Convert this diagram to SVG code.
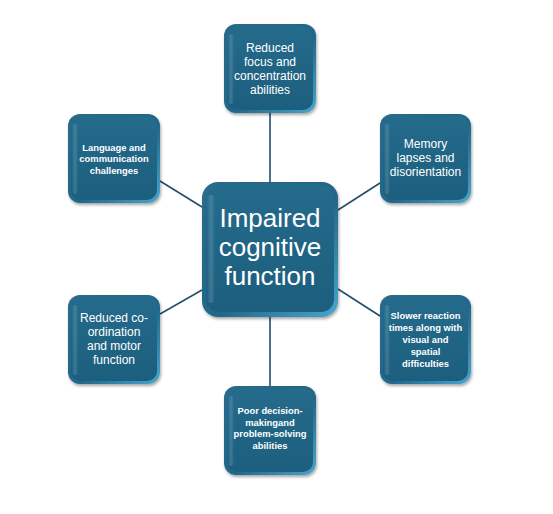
<svg xmlns="http://www.w3.org/2000/svg" width="553" height="514" viewBox="0 0 553 514">
<defs>
<linearGradient id="edge" x1="0" y1="0" x2="1" y2="1">
<stop offset="0" stop-color="#2a6a8a"/>
<stop offset="0.55" stop-color="#22668a"/>
<stop offset="1" stop-color="#4aa6cc"/>
</linearGradient>
<linearGradient id="face" x1="0" y1="0" x2="0" y2="1">
<stop offset="0" stop-color="#256b8c"/>
<stop offset="1" stop-color="#1c5e7d"/>
</linearGradient>
<linearGradient id="hl" x1="0" y1="0" x2="1" y2="0">
<stop offset="0" stop-color="#ffffff" stop-opacity="0"/>
<stop offset="0.5" stop-color="#9fd0e8" stop-opacity="0.22"/>
<stop offset="1" stop-color="#ffffff" stop-opacity="0"/>
</linearGradient>
<filter id="sh" x="-10%" y="-10%" width="125%" height="125%">
<feDropShadow dx="1" dy="2" stdDeviation="1.5" flood-color="#000" flood-opacity="0.35"/>
</filter>
</defs>
<style>
.o{fill:url(#edge);filter:url(#sh)}
.f{fill:url(#face)}
.h{fill:url(#hl)}
.c{stroke:#1f4f6c;stroke-width:1.6;fill:none}
text{font-family:"Liberation Sans",Arial,sans-serif;fill:#ffffff;text-anchor:middle}
.m{font-size:12px}
.s{font-size:9.4px;font-weight:bold}
.b{font-size:26px}
</style>
<rect width="553" height="514" fill="#ffffff"/>
<g id="connectors">
<line class="c" x1="270" y1="113" x2="270" y2="182"/>
<line class="c" x1="270" y1="317" x2="270" y2="386"/>
<line class="c" x1="160" y1="181" x2="202" y2="207"/>
<line class="c" x1="338" y1="210" x2="380" y2="183"/>
<line class="c" x1="160" y1="314" x2="202" y2="290"/>
<line class="c" x1="338" y1="289" x2="380" y2="316"/>
</g>
<g id="center">
<rect class="o" x="202" y="182" width="136" height="135" rx="16"/>
<rect class="f" x="206" y="185" width="128" height="127" rx="13"/>
<rect class="h" x="207" y="195" width="8" height="108" rx="4"/>
<text class="b" x="270" y="227">Impaired</text>
<text class="b" x="270" y="256">cognitive</text>
<text class="b" x="270" y="285">function</text>
</g>
<g id="n-top">
<rect class="o" x="224" y="24" width="92" height="89" rx="12"/>
<rect class="f" x="227" y="26" width="86" height="84" rx="10"/>
<rect class="h" x="228" y="34" width="6" height="70" rx="3"/>
<text class="m" x="270" y="52">Reduced</text>
<text class="m" x="270" y="66">focus and</text>
<text class="m" x="270" y="80">concentration</text>
<text class="m" x="270" y="94">abilities</text>
</g>
<g id="n-lefttop">
<rect class="o" x="68" y="114" width="92" height="89" rx="12"/>
<rect class="f" x="71" y="116" width="86" height="84" rx="10"/>
<rect class="h" x="72" y="124" width="6" height="70" rx="3"/>
<text class="s" x="114" y="151">Language and</text>
<text class="s" x="114" y="162">communication</text>
<text class="s" x="114" y="174">challenges</text>
</g>
<g id="n-righttop">
<rect class="o" x="380" y="114" width="91" height="89" rx="12"/>
<rect class="f" x="383" y="116" width="85" height="84" rx="10"/>
<rect class="h" x="384" y="124" width="6" height="70" rx="3"/>
<text class="m" x="425.5" y="148">Memory</text>
<text class="m" x="425.5" y="162">lapses and</text>
<text class="m" x="425.5" y="176">disorientation</text>
</g>
<g id="n-leftbottom">
<rect class="o" x="68" y="295" width="92" height="89" rx="12"/>
<rect class="f" x="71" y="297" width="86" height="84" rx="10"/>
<rect class="h" x="72" y="305" width="6" height="70" rx="3"/>
<text class="m" x="114" y="322">Reduced co-</text>
<text class="m" x="114" y="336">ordination</text>
<text class="m" x="114" y="350">and motor</text>
<text class="m" x="114" y="364">function</text>
</g>
<g id="n-rightbottom">
<rect class="o" x="380" y="295" width="91" height="89" rx="12"/>
<rect class="f" x="383" y="297" width="85" height="84" rx="10"/>
<rect class="h" x="384" y="305" width="6" height="70" rx="3"/>
<text class="s" x="425.5" y="319">Slower reaction</text>
<text class="s" x="425.5" y="331">times along with</text>
<text class="s" x="425.5" y="343">visual and</text>
<text class="s" x="425.5" y="355">spatial</text>
<text class="s" x="425.5" y="367">difficulties</text>
</g>
<g id="n-bottom">
<rect class="o" x="224" y="386" width="92" height="89" rx="12"/>
<rect class="f" x="227" y="388" width="86" height="84" rx="10"/>
<rect class="h" x="228" y="396" width="6" height="70" rx="3"/>
<text class="s" x="270" y="414">Poor decision-</text>
<text class="s" x="270" y="426">makingand</text>
<text class="s" x="270" y="437">problem-solving</text>
<text class="s" x="270" y="449">abilities</text>
</g>
</svg>
